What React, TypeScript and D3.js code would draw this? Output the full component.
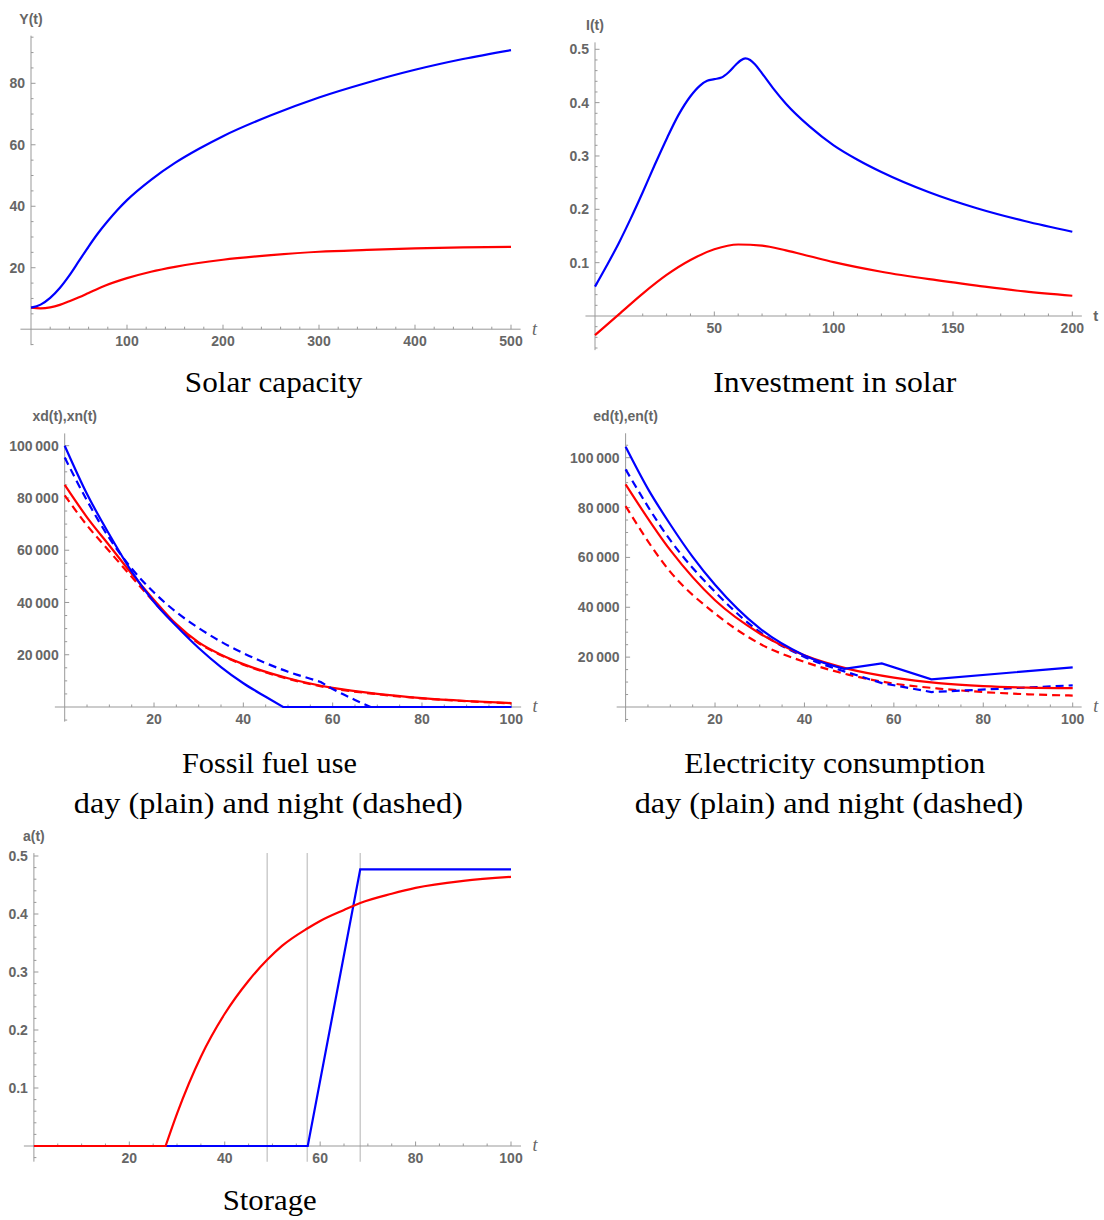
import React from 'react';
import * as d3 from 'd3';

// ---------- Panel 1: Solar capacity Y(t) ----------
const solarBlueT = [0, 10, 20, 30, 40, 50, 60, 70, 80, 90, 100, 125, 150, 175, 200, 250, 300, 350, 400, 450, 500];
const solarBlueV = [7, 8, 10.2, 13.4, 17.5, 22.2, 26.9, 31.3, 35.2, 38.8, 42, 48.6, 54.1, 58.7, 62.8, 69.6, 75.4, 80.2, 84.4, 87.9, 90.8];
const solarRedT = [0, 10, 20, 30, 40, 50, 60, 75, 100, 125, 150, 200, 250, 300, 350, 400, 450, 500];
const solarRedV = [7, 6.8, 7.1, 7.9, 9.1, 10.4, 11.8, 13.9, 16.6, 18.7, 20.3, 22.6, 24.1, 25.2, 25.8, 26.3, 26.6, 26.8];

// ---------- Panel 2: Investment in solar I(t) ----------
const invBlueT = [0, 5, 10, 15, 20, 25, 30, 35, 40, 44, 47, 50, 53, 56, 59, 61, 63, 65, 67, 70, 75, 80, 90, 100, 110, 120, 140, 160, 180, 200];
const invBlueV = [0.055, 0.095, 0.137, 0.183, 0.232, 0.283, 0.332, 0.377, 0.412, 0.432, 0.441, 0.444, 0.447, 0.457, 0.471, 0.479, 0.483, 0.48, 0.472, 0.455, 0.425, 0.398, 0.355, 0.32, 0.293, 0.27, 0.232, 0.202, 0.178, 0.158];
const invRedT = [0, 10, 20, 30, 40, 50, 60, 70, 80, 90, 100, 120, 140, 160, 180, 200];
const invRedV = [-0.036, 0.003, 0.042, 0.077, 0.105, 0.125, 0.134, 0.132, 0.123, 0.112, 0.101, 0.083, 0.069, 0.057, 0.046, 0.038];

// ---------- Panel 3: Fossil fuel use xd (plain), xn (dashed) ----------
const xdBlueT = [0, 5, 10, 15, 20, 25, 30, 35, 40, 45, 48.9, 100];
const xdBlueV = [100000, 81500, 66000, 51800, 40200, 31000, 22600, 15300, 9100, 3900, 0, 0];
const xnBlueT = [0, 5, 10, 15, 20, 25, 30, 35, 40, 45, 50, 55, 57.3, 60, 65, 68.5, 100];
const xnBlueV = [95500, 79000, 64600, 53000, 43800, 36300, 30200, 25000, 20600, 16800, 13500, 10800, 9600, 6900, 2700, 0, 0];
const xdRedT = [0, 5, 10, 15, 20, 25, 30, 35, 40, 50, 60, 70, 80, 90, 100];
const xdRedV = [85000, 72600, 61800, 51000, 41000, 31700, 24700, 20000, 16400, 11000, 7300, 5000, 3400, 2300, 1500];
const xnRedT = [0, 5, 10, 15, 20, 25, 30, 35, 40, 50, 60, 70, 80, 90, 100];
const xnRedV = [81000, 69500, 59600, 49800, 40200, 31300, 24400, 19800, 16200, 10800, 7100, 4900, 3300, 2200, 1400];

// ---------- Panel 4: Electricity consumption ed (plain), en (dashed) ----------
const edBlueT = [0, 5, 10, 15, 20, 30, 40, 48.9, 57.3, 68.4, 100];
const edBlueV = [104400, 87500, 73200, 60200, 49000, 31500, 20700, 15300, 17500, 11100, 15900];
const enBlueT = [0, 10, 20, 30, 40, 48.9, 57.3, 68.4, 100];
const enBlueV = [95300, 66900, 46200, 30100, 20100, 14300, 9600, 6000, 8700];
const edRedT = [0, 10, 20, 30, 40, 50, 60, 70, 80, 90, 100];
const edRedV = [89300, 62900, 42800, 29500, 20700, 15200, 11800, 9600, 8400, 7800, 7600];
const enRedT = [0, 10, 20, 30, 40, 50, 60, 70, 80, 90, 100];
const enRedV = [80600, 54200, 37500, 25400, 18100, 12900, 9400, 7400, 6000, 5100, 4600];

// ---------- Panel 5: Storage a(t) ----------
const aBlueT = [0, 57.4, 68.4, 100];
const aBlueV = [0, 0, 0.477, 0.477];
const aRedT = [0, 27.6, 30, 35, 40, 45, 48.9, 52, 57.3, 60, 65, 68.4, 75, 80, 90, 100];
const aRedV = [0, 0, 0.056, 0.154, 0.228, 0.285, 0.321, 0.345, 0.375, 0.388, 0.407, 0.419, 0.435, 0.445, 0.457, 0.464];
const aGridT = [48.9, 57.3, 68.4];

// ---------- Titles ----------
const titles = ['Solar capacity', 'Investment in solar', 'Fossil fuel use', 'Electricity consumption', 'Storage'];
const subTitle = 'day (plain) and night (dashed)';
const axisLabels = ['Y(t)', 'I(t)', 'xd(t),xn(t)', 'ed(t),en(t)', 'a(t)'];

type Sc = d3.ScaleLinear<number, number>;
type Pt = [number, number];

const BLUE = '#0000ff';
const RED = '#ff0000';
const AXIS = '#999999';
const LABEL = '#666666';

function buildPath(ts: number[], vs: number[], x: Sc, y: Sc, kinks: number[] = [], linear = false): string {
  const pts: Pt[] = ts.map((t, i) => [t, vs[i]]);
  const segs: Pt[][] = [];
  let cur: Pt[] = [];
  pts.forEach((p, i) => {
    cur.push(p);
    if (kinks.includes(p[0]) && cur.length > 1 && i < pts.length - 1) {
      segs.push(cur);
      cur = [p];
    }
  });
  if (cur.length > 1) segs.push(cur);
  const line = d3
    .line<Pt>()
    .x((d) => x(d[0]))
    .y((d) => y(d[1]))
    .curve(linear ? d3.curveLinear : d3.curveMonotoneX);
  return segs
    .map((s, i) => {
      const d = line(s) || '';
      return i === 0 ? d : d.replace(/^M/, 'L');
    })
    .join('');
}

function tickVals(lo: number, hi: number, step: number): number[] {
  const out: number[] = [];
  const i0 = Math.ceil(lo / step - 1e-9);
  const i1 = Math.floor(hi / step + 1e-9);
  for (let i = i0; i <= i1; i++) out.push(+(i * step).toFixed(6));
  return out;
}
const isMul = (v: number, m: number) => Math.abs(v / m - Math.round(v / m)) < 1e-6;

const fmtThousands = (v: number) => {
  const s = String(Math.round(v));
  return s.length > 3 ? s.slice(0, -3) + '\u2009' + s.slice(-3) : s;
};
const fmtInt = (v: number) => String(Math.round(v));
const fmt1 = d3.format('.1f');

interface AxesProps {
  x: Sc;
  y: Sc;
  xExt: [number, number];
  yExt: [number, number];
  xMinor: number;
  xMajor: number;
  yMinor: number;
  yMajor: number;
  xFmt: (v: number) => string;
  yFmt: (v: number) => string;
  yLabel: string;
  tItalic: boolean;
}

function Axes(p: AxesProps) {
  const ax = p.x(0);
  const ay = p.y(0);
  const xt = tickVals(p.xExt[0], p.xExt[1], p.xMinor).filter((v) => v !== 0);
  const yt = tickVals(p.yExt[0], p.yExt[1], p.yMinor).filter((v) => v !== 0);
  const yTop = p.y(p.yExt[1]);
  const xRight = p.x(p.xExt[1]);
  return (
    <g>
      <line x1={p.x(p.xExt[0])} x2={xRight} y1={ay} y2={ay} stroke={AXIS} strokeWidth={1} />
      <line x1={ax} x2={ax} y1={p.y(p.yExt[0])} y2={yTop} stroke={AXIS} strokeWidth={1} />
      {xt.map((v) => {
        const maj = isMul(v, p.xMajor);
        return (
          <g key={'x' + v}>
            <line x1={p.x(v)} x2={p.x(v)} y1={ay} y2={ay - (maj ? 4.5 : 2.5)} stroke={AXIS} strokeWidth={1} />
            {maj && (
              <text x={p.x(v)} y={ay + 17} textAnchor="middle" fontFamily="'Liberation Sans', Arial, sans-serif" fontWeight="bold" fontSize={14} fill={LABEL}>
                {p.xFmt(v)}
              </text>
            )}
          </g>
        );
      })}
      {yt.map((v) => {
        const maj = isMul(v, p.yMajor);
        return (
          <g key={'y' + v}>
            <line x1={ax} x2={ax + (maj ? 4.5 : 2.5)} y1={p.y(v)} y2={p.y(v)} stroke={AXIS} strokeWidth={1} />
            {maj && (
              <text x={ax - 6} y={p.y(v)} dy="0.36em" textAnchor="end" fontFamily="'Liberation Sans', Arial, sans-serif" fontWeight="bold" fontSize={14} fill={LABEL}>
                {p.yFmt(v)}
              </text>
            )}
          </g>
        );
      })}
      <text x={ax} y={yTop - 17} dy="0.36em" textAnchor="middle" fontFamily="'Liberation Sans', Arial, sans-serif" fontWeight="bold" fontSize={14} fill={LABEL}>
        {p.yLabel}
      </text>
      {p.tItalic ? (
        <text x={xRight + 14} y={ay} dy="0.3em" textAnchor="middle" fontFamily="'Liberation Serif', serif" fontStyle="italic" fontSize={18} fill={LABEL}>
          t
        </text>
      ) : (
        <text x={xRight + 14} y={ay} dy="0.36em" textAnchor="middle" fontFamily="'Liberation Sans', Arial, sans-serif" fontWeight="bold" fontSize={15} fill={LABEL}>
          t
        </text>
      )}
    </g>
  );
}

function Title({ x, y, w, text }: { x: number; y: number; w: number; text: string }) {
  return (
    <text x={x} y={y} textAnchor="middle" fontFamily="'Liberation Serif', 'Times New Roman', serif" fontSize={29} fill="#000" textLength={w} lengthAdjust="spacingAndGlyphs">
      {text}
    </text>
  );
}

export default function App() {
  const x1 = d3.scaleLinear().domain([0, 500]).range([31, 511]);
  const y1 = d3.scaleLinear().domain([0, 80]).range([329.2, 83.3]);
  const x2 = d3.scaleLinear().domain([0, 200]).range([595, 1072.3]);
  const y2 = d3.scaleLinear().domain([0, 0.5]).range([316, 49.3]);
  const x3 = d3.scaleLinear().domain([0, 100]).range([64.7, 511.3]);
  const y3 = d3.scaleLinear().domain([0, 100000]).range([707, 445.7]);
  const x4 = d3.scaleLinear().domain([0, 100]).range([625.6, 1072.7]);
  const y4 = d3.scaleLinear().domain([0, 100000]).range([707, 457.7]);
  const x5 = d3.scaleLinear().domain([0, 100]).range([33.9, 511]);
  const y5 = d3.scaleLinear().domain([0, 0.5]).range([1146, 856]);

  const sw = 2.2;
  const dash = '8,5';

  return (
    <svg width={1104} height={1220} style={{ position: 'absolute', left: 0, top: 0, background: '#fff' }}>
      <rect x={0} y={0} width={1104} height={1220} fill="#fff" />

      {/* Panel 1 */}
      <Axes x={x1} y={y1} xExt={[-11, 510]} yExt={[-5.2, 95.5]} xMinor={20} xMajor={100} yMinor={5} yMajor={20} xFmt={fmtInt} yFmt={fmtInt} yLabel={axisLabels[0]} tItalic={true} />
      <path d={buildPath(solarRedT, solarRedV, x1, y1)} fill="none" stroke={RED} strokeWidth={sw} />
      <path d={buildPath(solarBlueT, solarBlueV, x1, y1)} fill="none" stroke={BLUE} strokeWidth={sw} />
      <Title x={273.6} y={392} w={177.5} text={titles[0]} />

      {/* Panel 2 */}
      <Axes x={x2} y={y2} xExt={[-4, 204]} yExt={[-0.064, 0.513]} xMinor={10} xMajor={50} yMinor={0.02} yMajor={0.1} xFmt={fmtInt} yFmt={fmt1} yLabel={axisLabels[1]} tItalic={false} />
      <path d={buildPath(invRedT, invRedV, x2, y2)} fill="none" stroke={RED} strokeWidth={sw} />
      <path d={buildPath(invBlueT, invBlueV, x2, y2)} fill="none" stroke={BLUE} strokeWidth={sw} />
      <Title x={834.8} y={392} w={243} text={titles[1]} />

      {/* Panel 3 */}
      <Axes x={x3} y={y3} xExt={[-2.2, 102.2]} yExt={[-5600, 104700]} xMinor={5} xMajor={20} yMinor={5000} yMajor={20000} xFmt={fmtInt} yFmt={fmtThousands} yLabel={axisLabels[2]} tItalic={true} />
      <path d={buildPath(xnRedT, xnRedV, x3, y3)} fill="none" stroke={RED} strokeWidth={sw} strokeDasharray={dash} />
      <path d={buildPath(xdRedT, xdRedV, x3, y3)} fill="none" stroke={RED} strokeWidth={sw} />
      <path d={buildPath(xnBlueT, xnBlueV, x3, y3, [57.3, 68.5])} fill="none" stroke={BLUE} strokeWidth={sw} strokeDasharray={dash} />
      <path d={buildPath(xdBlueT, xdBlueV, x3, y3, [48.9])} fill="none" stroke={BLUE} strokeWidth={sw} />
      <Title x={269.4} y={772.7} w={175} text={titles[2]} />
      <Title x={268.3} y={813} w={389} text={subTitle} />

      {/* Panel 4 */}
      <Axes x={x4} y={y4} xExt={[-2, 102]} yExt={[-6000, 109800]} xMinor={5} xMajor={20} yMinor={5000} yMajor={20000} xFmt={fmtInt} yFmt={fmtThousands} yLabel={axisLabels[3]} tItalic={true} />
      <path d={buildPath(enRedT, enRedV, x4, y4)} fill="none" stroke={RED} strokeWidth={sw} strokeDasharray={dash} />
      <path d={buildPath(enBlueT, enBlueV, x4, y4, [48.9, 57.3, 68.4])} fill="none" stroke={BLUE} strokeWidth={sw} strokeDasharray={dash} />
      <path d={buildPath(edRedT, edRedV, x4, y4)} fill="none" stroke={RED} strokeWidth={sw} />
      <path d={buildPath(edBlueT, edBlueV, x4, y4, [48.9, 57.3, 68.4])} fill="none" stroke={BLUE} strokeWidth={sw} />
      <Title x={834.8} y={772.7} w={301} text={titles[3]} />
      <Title x={829} y={813} w={388.7} text={subTitle} />

      {/* Panel 5 */}
      {aGridT.map((t) => (
        <line key={t} x1={x5(t)} x2={x5(t)} y1={y5(0.505)} y2={y5(-0.027)} stroke="#cccccc" strokeWidth={1.5} />
      ))}
      <Axes x={x5} y={y5} xExt={[-2.1, 102.1]} yExt={[-0.027, 0.505]} xMinor={5} xMajor={20} yMinor={0.02} yMajor={0.1} xFmt={fmtInt} yFmt={fmt1} yLabel={axisLabels[4]} tItalic={true} />
      <path d={buildPath(aBlueT, aBlueV, x5, y5, [], true)} fill="none" stroke={BLUE} strokeWidth={sw} />
      <path d={buildPath(aRedT, aRedV, x5, y5, [27.6])} fill="none" stroke={RED} strokeWidth={sw} />
      <Title x={269.7} y={1210} w={94} text={titles[4]} />
    </svg>
  );
}
